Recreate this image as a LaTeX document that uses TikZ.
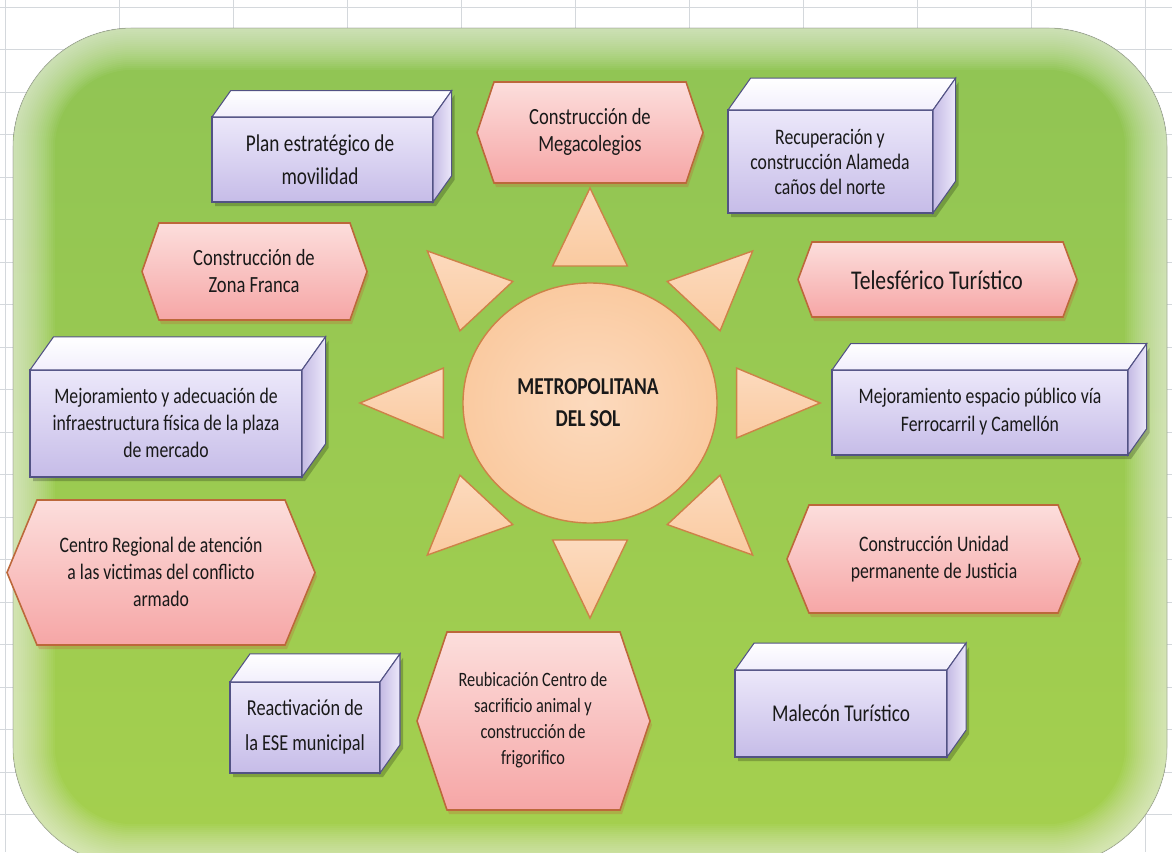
\documentclass[tikz,border=0pt]{standalone}
\usepackage{fontspec}
\setmainfont{Carlito}[FakeStretch=0.8]

\definecolor{gridgray}{RGB}{212,216,220}
\definecolor{leafgreen}{RGB}{144,196,84}
\definecolor{leafgreenlow}{RGB}{165,208,78}
\definecolor{sunfill}{RGB}{250,202,160}
\definecolor{sunlight}{RGB}{252,218,190}
\definecolor{sunedge}{RGB}{205,130,72}
\definecolor{cubelight}{RGB}{236,232,250}
\definecolor{cubedark}{RGB}{198,188,232}
\definecolor{cubetop}{RGB}{242,239,252}
\definecolor{cubeside}{RGB}{196,186,228}
\definecolor{cubeedge}{RGB}{82,82,132}
\definecolor{hexlight}{RGB}{252,222,220}
\definecolor{hexdark}{RGB}{246,166,166}
\definecolor{hexedge}{RGB}{188,104,58}
\definecolor{inktext}{RGB}{25,25,25}

\tikzset{
    cubeline/.style={draw=cubeedge,line width=0.6pt},
    hexline/.style={draw=hexedge,line width=0.9pt},
    sunline/.style={draw=sunedge,line width=0.8pt},
    boxtext/.style={text=inktext,align=center,inner sep=0pt,font=\fontsize{12.6}{15.2}\selectfont},
    boxtextbig/.style={boxtext,font=\fontsize{13.7}{18.7}\selectfont},
    soltext/.style={text=inktext,align=center,inner sep=0pt,font=\bfseries\fontsize{13.8}{18.1}\selectfont}
}

% front face from (#1,#2) to (#3,#4), depth taken from its height
\newcommand{\drawcube}[4]{
    \pgfmathsetmacro \cubedx {0.22*(#4-#2)}
    \pgfmathsetmacro \cubedy {0.31*(#4-#2)}
    \fill[black,opacity=0.22] (#1+3,#2+4) -- (#3+3,#2+4) -- (#3+\cubedx+3,#2-\cubedy+4) -- (#3+\cubedx+3,#4-\cubedy+4) -- (#3+3,#4+4) -- (#1+3,#4+4) -- cycle;
    \draw[cubeline,top color=cubelight,bottom color=cubedark] (#1,#2) rectangle (#3,#4); % front
    \draw[cubeline,top color=white,bottom color=cubetop] (#1,#2) -- (#1+\cubedx,#2-\cubedy) -- (#3+\cubedx,#2-\cubedy) -- (#3,#2) -- cycle; % top
    \draw[cubeline,left color=cubeside,right color=cubelight] (#3,#2) -- (#3+\cubedx,#2-\cubedy) -- (#3+\cubedx,#4-\cubedy) -- (#3,#4) -- cycle; % side
}

% left tip #1, top #2, right tip #3, bottom #4, indent #5
\newcommand{\drawhex}[5]{
    \pgfmathsetmacro \hexmid {(#2+#4)/2}
    \fill[hexedge,opacity=0.3] (#1+2,\hexmid+4) -- (#1+#5+2,#2+4) -- (#3-#5+2,#2+4) -- (#3+2,\hexmid+4) -- (#3-#5+2,#4+4) -- (#1+#5+2,#4+4) -- cycle;
    \draw[hexline,top color=hexlight,bottom color=hexdark] (#1,\hexmid) -- (#1+#5,#2) -- (#3-#5,#2) -- (#3,\hexmid) -- (#3-#5,#4) -- (#1+#5,#4) -- cycle;
}

\begin{document}
\begin{tikzpicture}[x=0.02cm,y=-0.02cm]
    \fill[white] (0,0) rectangle (1172,852);
    \useasboundingbox (0,0) rectangle (1172,852);

    % sheet grid
    \foreach \gx in {5,119,...,1172}
        \draw[gridgray,line width=0.5pt] (\gx,0) -- (\gx,852);
    \foreach \gy in {7,49.5,...,852}
        \draw[gridgray,line width=0.5pt] (0,\gy) -- (1172,\gy);

    % green panel with faded rim
    \begin{scope}
        \clip[rounded corners=2.4cm] (13,28) rectangle (1167,866);
        \fill[top color=leafgreen,bottom color=leafgreenlow] (13,28) rectangle (1167,866);
        \foreach \w in {4,8,...,84}
            \draw[white,opacity=0.045,line width=\w*0.567pt,rounded corners=2.4cm] (13,28) rectangle (1167,866);
    \end{scope}
    \draw[gray,opacity=0.3,line width=0.6pt,rounded corners=2.4cm] (13,28) rectangle (1167,866);

    % sun
    \begin{scope}[shift={(590,403)},xscale=1.07]
        \foreach \a in {0,45,...,315}
            \draw[sunline,top color=sunlight,bottom color=sunfill] (\a:215) -- (\a+14.3:141.4) -- (\a-14.3:141.4) -- cycle;
    \end{scope}
    \draw[sunline,inner color=sunlight,outer color=sunfill] (590,403) ellipse [x radius=127,y radius=120];

    % hexagons
    \drawhex{477}{82}{703}{183}{17}
    \drawhex{142}{223}{367}{320}{17}
    \drawhex{798}{242}{1077}{317}{14}
    \drawhex{7}{500}{315}{645}{30}
    \drawhex{787}{505}{1080}{613}{22}
    \drawhex{417}{632}{650}{810}{30}

    % boxes
    \drawcube{212}{117}{433}{202}
    \drawcube{728}{110}{933}{213}
    \drawcube{832}{370}{1128}{455}
    \drawcube{30}{370}{302}{477}
    \drawcube{230}{682}{380}{773}
    \drawcube{735}{670}{947}{757}

    \node[soltext] (sol) at (588,403) {METROPOLITANA\\DEL SOL};

    \node[boxtextbig] (plan) at (320,160) {Plan estratégico de\\movilidad};
    \node[boxtext,font=\fontsize{13.2}{15.3}\selectfont] (megacolegios) at (590,132) {Construcción de\\Megacolegios};
    \node[boxtext,font=\fontsize{12.6}{14.4}\selectfont] (alameda) at (830,162) {Recuperación y\\construcción Alameda\\caños del norte};
    \node[boxtext,font=\fontsize{13.2}{15.2}\selectfont] (zonafranca) at (254,271) {Construcción de\\Zona Franca};
    \node[boxtext,font=\fontsize{15.4}{18}\selectfont] (teleferico) at (937,280) {Telesférico Turístico};
    \node[boxtext] (plaza) at (166,423) {Mejoramiento y adecuación de\\infraestructura física de la plaza\\de mercado};
    \node[boxtext,font=\fontsize{12.6}{15.9}\selectfont] (ferrocarril) at (980,412) {Mejoramiento espacio público vía\\Ferrocarril y Camellón};
    \node[boxtext] (victimas) at (161,572) {Centro Regional de atención\\a las victimas del conflicto\\armado};
    \node[boxtext] (justicia) at (934,559) {Construcción Unidad\\permanente de Justicia};
    \node[boxtext,font=\fontsize{13}{19.8}\selectfont] (ese) at (305,727) {Reactivación de\\la ESE municipal};
    \node[boxtext,font=\fontsize{11.6}{14.8}\selectfont] (frigorifico) at (533,720) {Reubicación Centro de\\sacrificio animal y\\construcción de\\frigorifico};
    \node[boxtext,font=\fontsize{13.7}{16}\selectfont] (malecon) at (841,713) {Malecón Turístico};
\end{tikzpicture}
\end{document}
